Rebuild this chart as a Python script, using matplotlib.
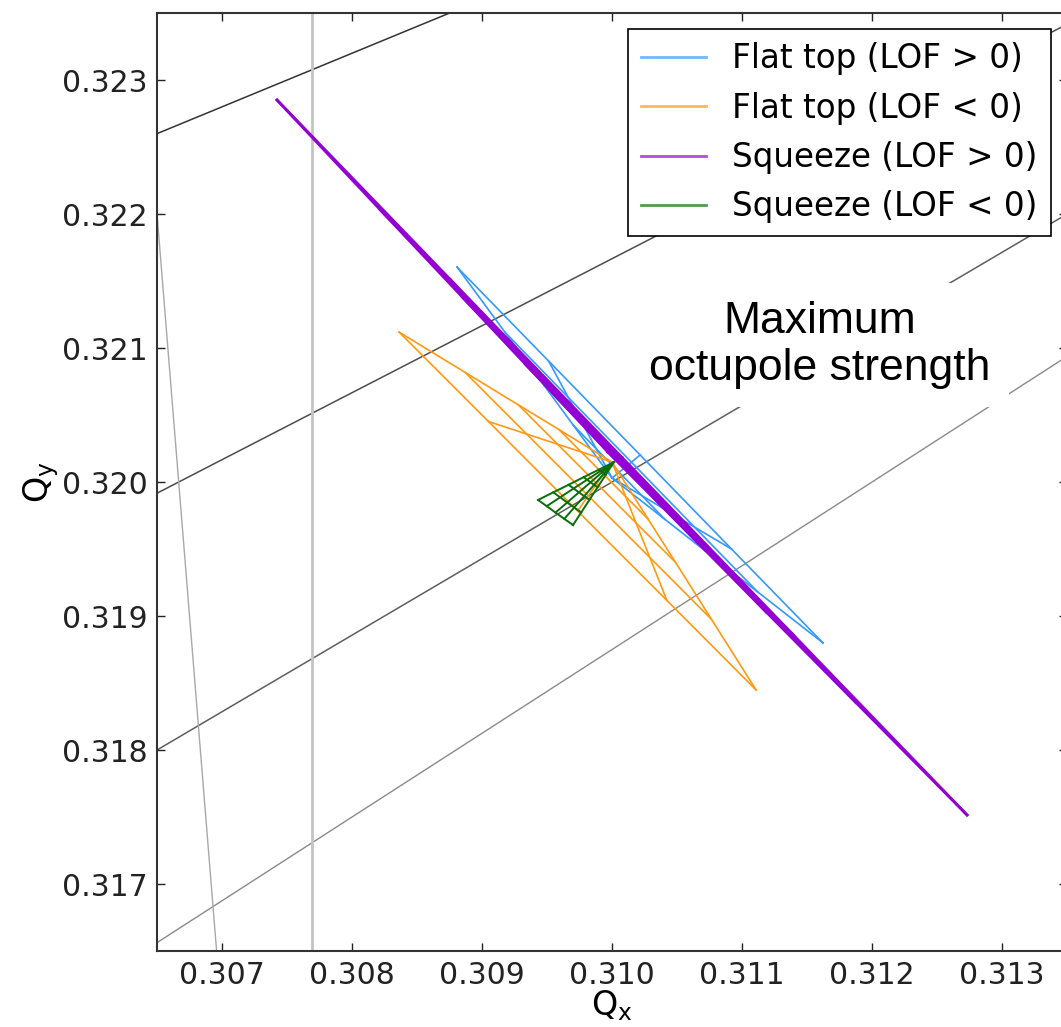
import matplotlib
matplotlib.use('Agg')
import matplotlib.pyplot as plt
from matplotlib.lines import Line2D
import numpy as np

plt.rcParams['font.family'] = ['DejaVu Sans']
plt.rcParams['mathtext.fontset'] = 'dejavusans'

# resonance lines  m*Qx + n*Qy = p
res_m = [-2, -3, -4, -5, 13, 12]
res_n = [5, 6, 7, 8, 0, 1]
res_p = [1, 1, 1, 1, 4, 4]
res_color = ['#333333', '#4d4d4d', '#5e5e5e', '#8a8a8a', '#c4c4c4', '#a8a8a8']
res_lw = [1.1, 1.1, 1.1, 1.0, 2.0, 1.0]

# footprints: zero-amplitude tune + grid (rows = amplitude, columns = angle)
ft_pos_q0 = (0.31000, 0.32003)
ft_pos_qx = [[0.309702, 0.309878, 0.310054, 0.310230, 0.310406],
             [0.309476, 0.309785, 0.310095, 0.310404, 0.310714],
             [0.309178, 0.309663, 0.310149, 0.310634, 0.311120],
             [0.308808, 0.309512, 0.310216, 0.310919, 0.311623]]
ft_pos_qy = [[0.320424, 0.320248, 0.320073, 0.319898, 0.319722],
             [0.320723, 0.320414, 0.320105, 0.319797, 0.319488],
             [0.321116, 0.320632, 0.320148, 0.319664, 0.319180],
             [0.321604, 0.320903, 0.320202, 0.319500, 0.318799]]

ft_neg_q0 = (0.31000, 0.320149)
ft_neg_qx = [[0.309591, 0.309762, 0.309934, 0.310105, 0.310277],
             [0.309279, 0.309581, 0.309883, 0.310185, 0.310488],
             [0.308870, 0.309343, 0.309817, 0.310291, 0.310765],
             [0.308362, 0.309049, 0.309735, 0.310422, 0.311108]]
ft_neg_qy = [[0.320392, 0.320225, 0.320058, 0.319891, 0.319724],
             [0.320576, 0.320282, 0.319988, 0.319694, 0.319401],
             [0.320818, 0.320358, 0.319897, 0.319436, 0.318975],
             [0.321119, 0.320452, 0.319784, 0.319116, 0.318448]]

sq_pos_q0 = (0.309969, 0.320224)
sq_pos_qx = [[0.309332, 0.309664, 0.309996, 0.310328, 0.310660],
             [0.308849, 0.309433, 0.310017, 0.310600, 0.311184],
             [0.308212, 0.309128, 0.310044, 0.310959, 0.311875],
             [0.307423, 0.308750, 0.310077, 0.311404, 0.312731]]
sq_pos_qy = [[0.320881, 0.320547, 0.320214, 0.319880, 0.319547],
             [0.321380, 0.320793, 0.320206, 0.319619, 0.319032],
             [0.322037, 0.321116, 0.320196, 0.319275, 0.318355],
             [0.322851, 0.321517, 0.320183, 0.318849, 0.317515]]

sq_neg_q0 = (0.310015, 0.320149)
sq_neg_qx = [[0.309898, 0.309912, 0.309925, 0.309939, 0.309952],
             [0.309781, 0.309808, 0.309835, 0.309862, 0.309889],
             [0.309665, 0.309705, 0.309745, 0.309786, 0.309826],
             [0.309548, 0.309601, 0.309655, 0.309709, 0.309763],
             [0.309431, 0.309498, 0.309565, 0.309633, 0.309700]]
sq_neg_qy = [[0.320092, 0.320083, 0.320074, 0.320064, 0.320055],
             [0.320036, 0.320017, 0.319998, 0.319979, 0.319961],
             [0.319979, 0.319952, 0.319923, 0.319895, 0.319867],
             [0.319923, 0.319886, 0.319847, 0.319810, 0.319773],
             [0.319866, 0.319820, 0.319772, 0.319725, 0.319679]]

labels = ['Flat top (LOF > 0)', 'Flat top (LOF < 0)',
          'Squeeze (LOF > 0)', 'Squeeze (LOF < 0)']
colors = ['#3399ff', '#ff9911', '#9400d3', '#0a6e0a']

xlim = (0.3065, 0.3135)
ylim = (0.3165, 0.3235)

fig = plt.figure(figsize=(10.61, 10.27), dpi=100)
ax = fig.add_axes([0.1480, 0.0740, 0.8577, 0.9133])

# resonance lines
qx_span = np.array(xlim)
for m, n, p, c, lw in zip(res_m, res_n, res_p, res_color, res_lw):
    if n == 0:
        ax.axvline(p / m, color=c, lw=lw, zorder=1)
    else:
        ax.plot(qx_span, (p - m * qx_span) / n, color=c, lw=lw, zorder=1)


def draw_footprint(q0, qx, qy, color, lw):
    qx = np.array(qx)
    qy = np.array(qy)
    for i in range(qx.shape[0]):
        ax.plot(qx[i], qy[i], color=color, lw=lw, zorder=2)
    for j in range(qx.shape[1]):
        ax.plot(np.r_[q0[0], qx[:, j]], np.r_[q0[1], qy[:, j]],
                color=color, lw=lw, zorder=2)


draw_footprint(ft_pos_q0, ft_pos_qx, ft_pos_qy, colors[0], 1.2)
draw_footprint(ft_neg_q0, ft_neg_qx, ft_neg_qy, colors[1], 1.2)
draw_footprint(sq_pos_q0, sq_pos_qx, sq_pos_qy, colors[2], 2.0)
draw_footprint(sq_neg_q0, sq_neg_qx, sq_neg_qy, colors[3], 1.4)

ax.text(0.3116, 0.321022, 'Maximum\noctupole strength', fontsize=32,
        family='Liberation Sans', ha='center', va='center', zorder=3,
        bbox=dict(boxstyle='square,pad=0.4', facecolor='white', edgecolor='none'))

handles = [Line2D([], [], color=c, lw=2, alpha=0.7) for c in colors]
leg = ax.legend(handles, labels, loc='upper right', fontsize=23.5,
                fancybox=False, framealpha=1, edgecolor='black',
                borderpad=0.4, labelspacing=0.5, handlelength=2.0,
                handletextpad=0.8, borderaxespad=0.5)
leg.get_frame().set_linewidth(1.2)
leg.set_zorder(5)

ax.set_xlim(xlim)
ax.set_ylim(ylim)
ax.set_xticks([0.307, 0.308, 0.309, 0.310, 0.311, 0.312, 0.313])
ax.set_yticks([0.317, 0.318, 0.319, 0.320, 0.321, 0.322, 0.323])
ax.xaxis.set_major_formatter(matplotlib.ticker.FormatStrFormatter('%.3f'))
ax.yaxis.set_major_formatter(matplotlib.ticker.FormatStrFormatter('%.3f'))
ax.tick_params(direction='in', top=True, right=True, length=6, width=1,
               labelsize=21.5, pad=7, colors='#222222')
for s in ax.spines.values():
    s.set_color('#333333')
    s.set_linewidth(1.5)

ax.set_xlabel(r'$\mathrm{Q_x}$', fontsize=24)
ax.set_ylabel(r'$\mathrm{Q_y}$', fontsize=24)
ax.xaxis.set_label_coords(0.5, -0.040)
ax.yaxis.set_label_coords(-0.106, 0.5)

fig.savefig('out.png', dpi=100)
